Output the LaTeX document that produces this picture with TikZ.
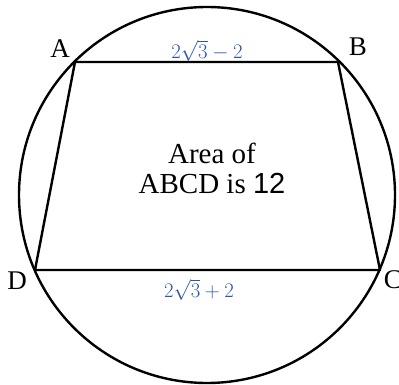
\documentclass[tikz,border=0pt]{standalone}
\usepackage{fontspec}
\setmainfont{Liberation Serif}
\newfontfamily\numfont{Liberation Sans}
\definecolor{lblblue}{RGB}{45,85,170}
\begin{document}
\begin{tikzpicture}[x=1pt,y=-1pt,
  edge/.style={line width=2.4pt,line join=round},
  vlabel/.style={font=\fontsize{27}{27}\selectfont,inner sep=0pt},
  mlabel/.style={text=lblblue,font=\fontsize{20}{20}\selectfont,inner sep=0pt}]
\useasboundingbox (0,0) rectangle (399,385);
\node[draw,circle,line width=2.4pt,minimum size=376pt,inner sep=0pt] (circ) at (207,195) {};
\coordinate (A) at (75,62);
\coordinate (B) at (338,62);
\coordinate (C) at (380,270);
\coordinate (D) at (35,270);
\draw[edge] (A) -- (B) -- (C) -- (D) -- cycle;
\node[vlabel] (lA) at (60,49) {A};
\node[vlabel] (lB) at (358,47) {B};
\node[vlabel] (lC) at (393,280) {C};
\node[vlabel] (lD) at (17,281) {D};
\node[mlabel] (top) at (207,51) {$2\sqrt{3}-2$};
\node[mlabel] (bot) at (199,290) {$2\sqrt{3}+2$};
\node[align=center,font=\fontsize{29}{30}\selectfont,inner sep=0pt] (area) at (212,168) {Area of\\ABCD is {\numfont 12}};
\end{tikzpicture}
\end{document}
